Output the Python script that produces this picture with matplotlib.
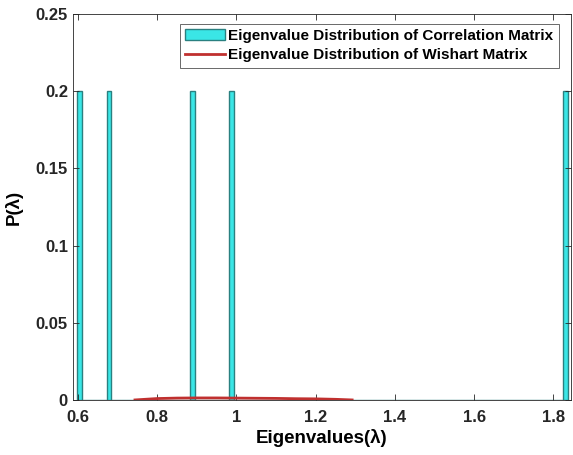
import numpy as np
import matplotlib.pyplot as plt

plt.rcParams['font.family'] = ['Liberation Sans', 'DejaVu Sans']
plt.rcParams['font.weight'] = 'bold'

# eigenvalues of the correlation matrix
eigvals = [0.598, 0.680, 0.889, 0.988, 1.837]
n_bins = 100

# Wishart (Marchenko-Pastur) curve
mp_x = [0.744, 0.80, 0.85, 0.90, 0.95, 1.00, 1.05, 1.10, 1.15, 1.20, 1.25, 1.292]
mp_y = [0.0, 0.0009, 0.0012, 0.0013, 0.0013, 0.0012, 0.0011, 0.0010, 0.0008, 0.0007, 0.0004, 0.0]

fig = plt.figure(figsize=(5.73, 4.55), dpi=100)
ax = fig.add_axes([0.127, 0.121, 0.870, 0.848])

w = np.ones(len(eigvals)) / len(eigvals)
ax.hist(eigvals, bins=n_bins, weights=w, facecolor='#3ae6e6', edgecolor='#2a8080',
        linewidth=1.0, label='Eigenvalue Distribution of Correlation Matrix')
ax.plot(mp_x, mp_y, color='#c0302f', linewidth=2,
        label='Eigenvalue Distribution of Wishart Matrix')

ax.set_xlim(0.587, 1.845)
ax.set_ylim(0, 0.25)
ax.set_xticks([0.6, 0.8, 1.0, 1.2, 1.4, 1.6, 1.8])
ax.set_xticklabels(['0.6', '0.8', '1', '1.2', '1.4', '1.6', '1.8'])
ax.set_yticks([0, 0.05, 0.1, 0.15, 0.2, 0.25])
ax.set_yticklabels(['0', '0.05', '0.1', '0.15', '0.2', '0.25'])
ax.tick_params(direction='in', top=True, right=True, labelsize=12, colors='#262626',
               length=4, width=0.6)
ax.tick_params(axis='x', pad=7)
for s in ax.spines.values():
    s.set_color('#262626')
    s.set_linewidth(0.6)

ax.set_xlabel('Eigenvalues(λ)', fontsize=13.5, fontweight='bold', labelpad=3)
ax.set_ylabel('P(λ)', fontsize=13.5, fontweight='bold', labelpad=9)

leg = ax.legend(loc='upper right', fontsize=11, frameon=True, fancybox=False,
                handlelength=2.6, borderpad=0.35,
                labelspacing=0.35, handletextpad=0.2, bbox_to_anchor=(0.99, 0.995))
leg.get_frame().set_edgecolor('#262626')
leg.get_frame().set_linewidth(0.6)

fig.savefig('out.png', dpi=100)
